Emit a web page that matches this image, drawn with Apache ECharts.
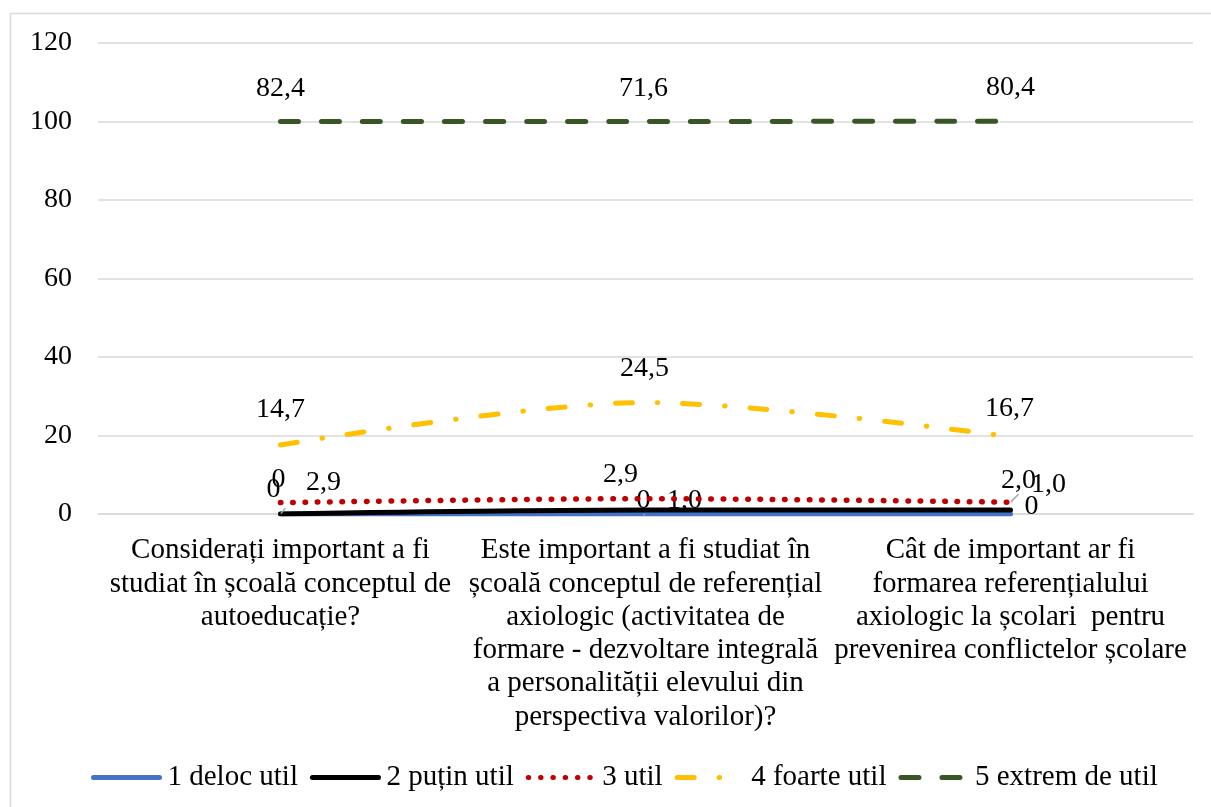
<!DOCTYPE html>
<html>
<head>
<meta charset="utf-8">
<script src="https://cdn.jsdelivr.net/npm/echarts@6/dist/echarts.min.js"></script>
<style>
html,body{margin:0;padding:0;background:#fff;}
#c{width:1211px;height:807px;}
</style>
</head>
<body>
<div id="c"></div>
<script>
const categories = [
  "Considerați important a fi\nstudiat în școală conceptul de\nautoeducație?",
  "Este important a fi studiat în\nșcoală conceptul de referențial\naxiologic (activitatea de\nformare - dezvoltare integrală\na personalității elevului din\nperspectiva valorilor)?",
  "Cât de important ar fi\nformarea referențialului\naxiologic la școlari  pentru\nprevenirea conflictelor școlare"
];
const seriesNames = ["1 deloc util", "2 puțin util", "3 util", "4 foarte util", "5 extrem de util"];
const delocUtil = [0, 0, 0];
const putinUtil = [0, 1.0, 1.0];
const util = [2.9, 2.9, 2.0];
const foarteUtil = [14.7, 24.5, 16.7];
const extremUtil = [82.4, 71.6, 80.4];
const yTicks = [0, 20, 40, 60, 80, 100, 120];

// label placement offsets (px) per series / category
const labelOffsets = [
  [[-7, -24], [-2, -13], [21, -7]],
  [[-2, -34], [39, -9], [38, -25]],
  [[43, -20], [-25, -24], [8, -22]],
  [[0, -35], [-1, -34], [-1, -28]],
  [[0, -33], [-2, -33], [0, -33]]
];
// which labels have a leader line
const leaderLines = [
  [false, true, false],
  [true, false, false],
  [false, false, true],
  [false, false, false],
  [false, false, false]
];

const FONT = 'Liberation Serif, Times New Roman, serif';
const fmt = v => v === 0 ? '0' : v.toFixed(1).replace('.', ',');

const values = [delocUtil, putinUtil, util, foarteUtil, extremUtil];
const colors = ['#4472C4', '#000000', '#C00000', '#FFC000', '#375623'];
const lineTypes = ['solid', 'solid', [0.5, 11.8], [17, 25, 0.5, 25], [18, 23]];

const series = values.map((vals, si) => ({
  name: seriesNames[si],
  type: 'line',
  stack: 'total',
  smooth: 0.3,
  symbol: 'circle',
  symbolSize: 1,
  showSymbol: true,
  itemStyle: { color: 'rgba(0,0,0,0)', borderWidth: 0 },
  lineStyle: { color: colors[si], width: si === 2 ? 5.5 : 5, type: lineTypes[si], cap: 'round', join: 'round' },
  z: si === 0 ? 1 : 2 + si,
  data: vals.map((v, ci) => ({
    value: v,
    label: { offset: labelOffsets[si][ci] },
    labelLine: { show: leaderLines[si][ci], lineStyle: { color: '#a6a6a6', width: 1.5 } }
  })),
  label: {
    show: true,
    position: 'inside',
    formatter: p => fmt(p.value),
    color: '#000',
    fontFamily: FONT,
    fontSize: 28
  },
  emphasis: { disabled: true }
}));

const chart = echarts.init(document.getElementById('c'), null, { renderer: 'canvas' });
chart.setOption({
  animation: false,
  backgroundColor: '#fff',
  graphic: [{
    type: 'rect',
    shape: { x: 10.5, y: 13.5, width: 1300, height: 900 },
    style: { fill: 'none', stroke: '#d9d9d9', lineWidth: 1.5 },
    silent: true,
    z: -10
  }],
  grid: { left: 98, right: 18, top: 43, bottom: 293 },
  legend: {
    data: seriesNames.map((n, i) => ({ name: n, itemStyle: { color: colors[i], opacity: 0 } })),
    top: 758,
    left: 86,
    itemWidth: 66,
    itemHeight: 14,
    itemGap: 12,
    lineStyle: { width: 5, cap: 'round' },
    textStyle: { color: '#000', fontFamily: FONT, fontSize: 29, padding: [0, 0, 0, 3] }
  },
  xAxis: {
    type: 'category',
    data: categories,
    boundaryGap: true,
    axisLine: { show: true, lineStyle: { color: '#d9d9d9', width: 1.5 } },
    axisTick: { show: false },
    axisLabel: {
      interval: 0,
      margin: 20,
      color: '#000',
      fontFamily: FONT,
      fontSize: 29,
      lineHeight: 33.3,
      align: 'center'
    }
  },
  yAxis: {
    type: 'value',
    min: 0,
    max: 120,
    interval: 20,
    axisLine: { show: false },
    axisTick: { show: false },
    splitLine: { lineStyle: { color: '#d9d9d9', width: 1.5 } },
    axisLabel: {
      margin: 26,
      color: '#000',
      fontFamily: FONT,
      fontSize: 28,
      formatter: v => yTicks.includes(v) ? String(v) : ''
    }
  },
  series: series
});
</script>
</body>
</html>
